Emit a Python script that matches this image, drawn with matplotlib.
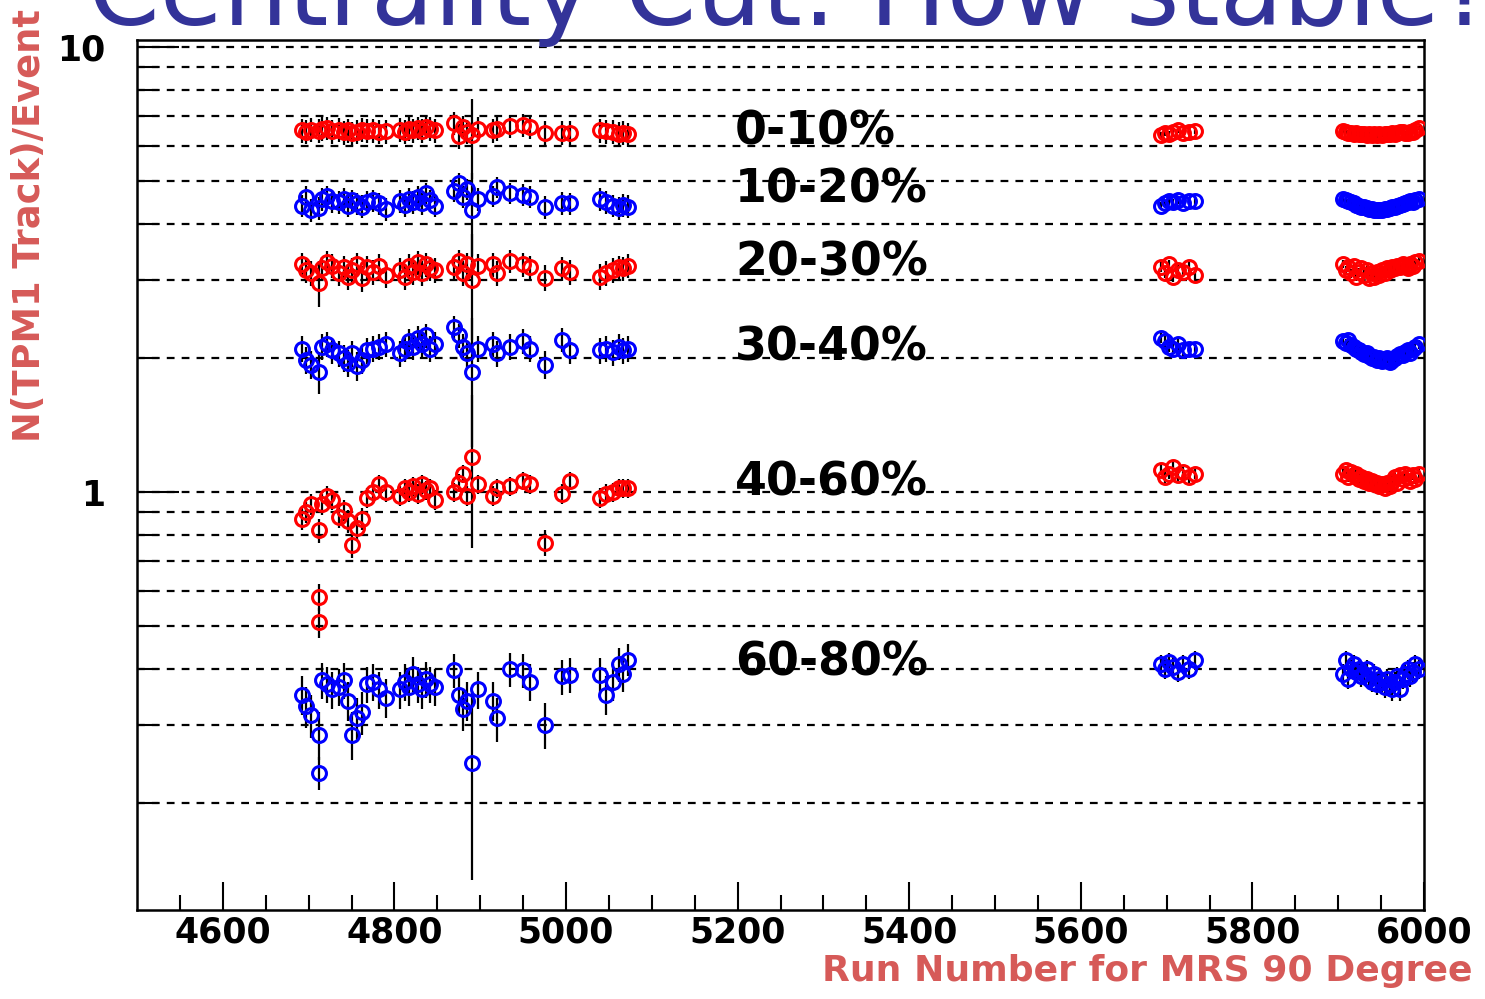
import matplotlib
matplotlib.use("Agg")
import matplotlib.pyplot as plt
import numpy as np

# ---------------- data ----------------
runs_left = [4692, 4697, 4703, 4712, 4716, 4722, 4727, 4735, 4741, 4746,
             4751, 4756, 4762, 4768, 4775, 4782, 4790, 4806, 4812, 4817,
             4822, 4827, 4832, 4837, 4842, 4847, 4870, 4875, 4880, 4885,
             4890, 4898, 4915, 4920, 4935, 4950, 4958, 4975, 4995, 5005,
             5040, 5047, 5055, 5062, 5067, 5072]
runs_mid = [5693, 5698, 5703, 5708, 5713, 5719, 5726, 5733]
runs_right = [5906, 5909, 5912, 5915, 5918, 5921, 5924, 5927, 5930, 5933,
              5936, 5939, 5942, 5945, 5948, 5951, 5954, 5957, 5960, 5963,
              5966, 5969, 5972, 5975, 5978, 5981, 5984, 5987, 5990, 5994]
runs = runs_left + runs_mid + runs_right

c0_10 = [6.50, 6.45, 6.52, 6.48, 6.55, 6.58, 6.47, 6.52, 6.43, 6.50,
         6.40, 6.45, 6.52, 6.48, 6.50, 6.45, 6.47, 6.52, 6.45, 6.55,
         6.50, 6.58, 6.48, 6.62, 6.55, 6.50, 6.75, 6.30, 6.60, 6.45,
         6.35, 6.55, 6.50, 6.55, 6.65, 6.68, 6.62, 6.42, 6.42, 6.42,
         6.50, 6.46, 6.44, 6.38, 6.42, 6.36,
         6.35, 6.40, 6.38, 6.45, 6.50, 6.42, 6.45, 6.48,
         6.48, 6.45, 6.42, 6.40, 6.38, 6.40, 6.37, 6.38, 6.36, 6.35,
         6.37, 6.35, 6.36, 6.34, 6.36, 6.35, 6.37, 6.36, 6.38, 6.40,
         6.38, 6.42, 6.45, 6.43, 6.40, 6.42, 6.45, 6.44, 6.50, 6.58]
c10_20 = [4.40, 4.60, 4.30, 4.35, 4.55, 4.62, 4.50, 4.48, 4.55, 4.40,
          4.52, 4.45, 4.38, 4.48, 4.52, 4.45, 4.32, 4.50, 4.42, 4.55,
          4.48, 4.60, 4.45, 4.70, 4.52, 4.40, 4.75, 4.95, 4.60, 4.80,
          4.30, 4.55, 4.62, 4.85, 4.70, 4.65, 4.60, 4.37, 4.46, 4.45,
          4.55, 4.48, 4.40, 4.35, 4.42, 4.38,
          4.40, 4.45, 4.50, 4.48, 4.52, 4.46, 4.50, 4.50,
          4.55, 4.52, 4.50, 4.48, 4.45, 4.42, 4.40, 4.38, 4.36, 4.34,
          4.33, 4.32, 4.31, 4.30, 4.30, 4.31, 4.32, 4.33, 4.34, 4.36,
          4.38, 4.40, 4.42, 4.44, 4.46, 4.48, 4.50, 4.48, 4.52, 4.55]
c20_30 = [3.25, 3.15, 3.10, 2.95, 3.18, 3.28, 3.22, 3.10, 3.20, 3.05,
          3.15, 3.25, 3.02, 3.20, 3.12, 3.22, 3.08, 3.15, 3.05, 3.22,
          3.12, 3.28, 3.10, 3.25, 3.18, 3.15, 3.20, 3.30, 3.10, 3.25,
          3.00, 3.22, 3.25, 3.10, 3.30, 3.25, 3.20, 3.03, 3.18, 3.12,
          3.05, 3.10, 3.15, 3.20, 3.18, 3.22,
          3.20, 3.10, 3.25, 3.05, 3.15, 3.12, 3.20, 3.08,
          3.25, 3.15, 3.20, 3.10, 3.22, 3.05, 3.12, 3.18, 3.08, 3.15,
          3.02, 3.10, 3.05, 3.12, 3.08, 3.15, 3.10, 3.18, 3.15, 3.20,
          3.18, 3.22, 3.20, 3.25, 3.22, 3.18, 3.25, 3.22, 3.28, 3.30]
c30_40 = [2.10, 1.98, 1.93, 1.86, 2.12, 2.15, 2.08, 2.05, 2.00, 1.95,
          2.05, 1.92, 1.98, 2.08, 2.10, 2.12, 2.15, 2.05, 2.10, 2.18,
          2.12, 2.22, 2.15, 2.25, 2.10, 2.15, 2.35, 2.25, 2.12, 2.05,
          1.86, 2.10, 2.15, 2.05, 2.12, 2.18, 2.10, 1.93, 2.20, 2.08,
          2.08, 2.10, 2.06, 2.12, 2.08, 2.10,
          2.22, 2.18, 2.12, 2.10, 2.15, 2.08, 2.10, 2.10,
          2.18, 2.16, 2.20, 2.14, 2.12, 2.10, 2.08, 2.06, 2.04, 2.05,
          2.02, 2.00, 2.01, 1.98, 2.00, 1.97, 1.99, 2.00, 1.96, 1.98,
          2.00, 2.02, 2.04, 2.03, 2.06, 2.08, 2.05, 2.10, 2.12, 2.15]
c40_60 = [0.87, 0.90, 0.94, 0.82, 0.94, 0.98, 0.96, 0.88, 0.91, 0.86,
          0.76, 0.83, 0.87, 0.97, 1.00, 1.04, 1.00, 0.98, 1.02, 1.00,
          1.03, 0.99, 1.04, 1.01, 1.02, 0.96, 1.00, 1.05, 1.10, 0.98,
          1.20, 1.04, 0.98, 1.02, 1.03, 1.06, 1.04, 0.77, 0.99, 1.06,
          0.97, 0.99, 1.00, 1.02, 1.02, 1.02,
          1.12, 1.08, 1.10, 1.14, 1.09, 1.11, 1.08, 1.10,
          1.10, 1.12, 1.08, 1.11, 1.09, 1.10, 1.07, 1.08, 1.06, 1.07,
          1.05, 1.06, 1.04, 1.05, 1.03, 1.04, 1.02, 1.05, 1.03, 1.06,
          1.08, 1.05, 1.09, 1.07, 1.10, 1.08, 1.06, 1.09, 1.07, 1.10]
c60_80 = [0.350, 0.330, 0.315, 0.285, 0.378, 0.370, 0.360, 0.365, 0.378, 0.340,
          0.285, 0.310, 0.320, 0.370, 0.375, 0.360, 0.345, 0.360, 0.375, 0.365,
          0.390, 0.370, 0.360, 0.380, 0.370, 0.365, 0.398, 0.350, 0.325, 0.340,
          0.246, 0.360, 0.340, 0.310, 0.400, 0.398, 0.375, 0.300, 0.385, 0.388,
          0.388, 0.350, 0.375, 0.410, 0.390, 0.420,
          0.410, 0.400, 0.415, 0.405, 0.395, 0.410, 0.400, 0.420,
          0.390, 0.420, 0.380, 0.400, 0.410, 0.395, 0.400, 0.385, 0.390, 0.400,
          0.380, 0.375, 0.390, 0.370, 0.380, 0.375, 0.365, 0.380, 0.370, 0.360,
          0.375, 0.385, 0.360, 0.380, 0.390, 0.400, 0.385, 0.395, 0.410, 0.400]

# extra outlier points (run 4712)
c40_60_extra_runs = [4712, 4712]
c40_60_extra_vals = [0.58, 0.51]
c40_60_extra_errs = [0.04, 0.04]
c60_80_extra_runs = [4712]
c60_80_extra_vals = [0.234]
c60_80_extra_errs = [0.02]

# typical uncertainties per series (left / middle / right run groups)
err_left = [0.40, 0.26, 0.20, 0.14, 0.05, 0.035]
err_mid = [0.10, 0.08, 0.08, 0.06, 0.03, 0.02]
err_right = [0.08, 0.06, 0.07, 0.05, 0.025, 0.02]
# runs with large uncertainties: {run: error} per series
big_err = [{4890: 1.30},
           {4890: 0.90},
           {4712: 0.35, 4890: 0.80},
           {4712: 0.20, 4890: 0.60},
           {4890: 0.45},
           {4890: 0.112}]

series = [c0_10, c10_20, c20_30, c30_40, c40_60, c60_80]
series_colors = ["red", "blue", "red", "blue", "red", "blue"]
labels = ["0-10%", "10-20%", "20-30%", "30-40%", "40-60%", "60-80%"]
label_y = [6.44, 4.77, 3.27, 2.11, 1.05, 0.413]
label_x = 5197

title = "Centrality Cut: How stable?"
xlabel = "Run Number for MRS 90 Degree"
ylabel = "N(TPM1 Track)/Event"

# ---------------- figure ----------------
W, H = 1485, 999
fig = plt.figure(figsize=(W / 100, H / 100), dpi=100)
ax = fig.add_axes([137 / W, 1 - 910 / H, (1424 - 137) / W, (910 - 40) / H])
ax.set_yscale("log")
ax.set_xlim(4500, 6000)
ax.set_ylim(0.115, 10.37)

mk = dict(fmt="o", mfc="none", ms=10, mew=2.2, ecolor="black",
          elinewidth=1.6, capsize=0, zorder=3)
n_l, n_m, n_r = len(runs_left), len(runs_mid), len(runs_right)
for i, (vals, col) in enumerate(zip(series, series_colors)):
    errs = [err_left[i]] * n_l + [err_mid[i]] * n_m + [err_right[i]] * n_r
    errs = [big_err[i].get(r, e) for r, e in zip(runs, errs)]
    ax.errorbar(runs, vals, yerr=errs, mec=col, **mk)
ax.errorbar(c40_60_extra_runs, c40_60_extra_vals, yerr=c40_60_extra_errs,
            mec="red", **mk)
ax.errorbar(c60_80_extra_runs, c60_80_extra_vals, yerr=c60_80_extra_errs,
            mec="blue", **mk)

for lab, ly in zip(labels, label_y):
    ax.text(label_x, ly, lab, ha="left", va="center", fontsize=33,
            fontweight="bold", color="black", zorder=5)

# y ticks & grid
major_y = [1, 10]
minor_y = [0.2, 0.3, 0.4, 0.5, 0.6, 0.7, 0.8, 0.9, 2, 3, 4, 5, 6, 7, 8, 9]
ax.set_yticks(major_y, ["1", "10"])
ax.set_yticks(minor_y, [""] * len(minor_y), minor=True)
for yv in major_y + minor_y:
    ax.axhline(yv, color="black", lw=1.6, ls=(0, (3.5, 3.2)), zorder=1)

# x ticks
ax.set_xticks(np.arange(4600, 6001, 200))
ax.set_xticks(np.arange(4550, 6001, 50), minor=True)
ax.tick_params(axis="x", which="major", direction="in", length=20, width=1.5,
               labelsize=25, pad=4)
ax.tick_params(axis="x", which="minor", direction="in", length=11, width=1.5)
ax.tick_params(axis="y", which="major", direction="in", length=30, width=1.5,
               labelsize=25, pad=23)
ax.tick_params(axis="y", which="minor", direction="in", length=15, width=1.5)
for lab in ax.get_xticklabels() + ax.get_yticklabels():
    lab.set_fontweight("bold")

for sp in ax.spines.values():
    sp.set_linewidth(1.8)

label_color = "#d65a58"
fig.text(1472 / W, 1 - 971 / H, xlabel, ha="right", va="center", fontsize=26,
         fontweight="bold", color=label_color)
fig.text(30 / W, 1 - 225 / H, ylabel, ha="center", va="center", rotation=90,
         fontsize=26.5, fontweight="bold", color=label_color)
fig.text(88 / W, 1 - 25 / H, title, ha="left", va="baseline", fontsize=74,
         color="#333399")

fig.savefig("out.png", dpi=100)
